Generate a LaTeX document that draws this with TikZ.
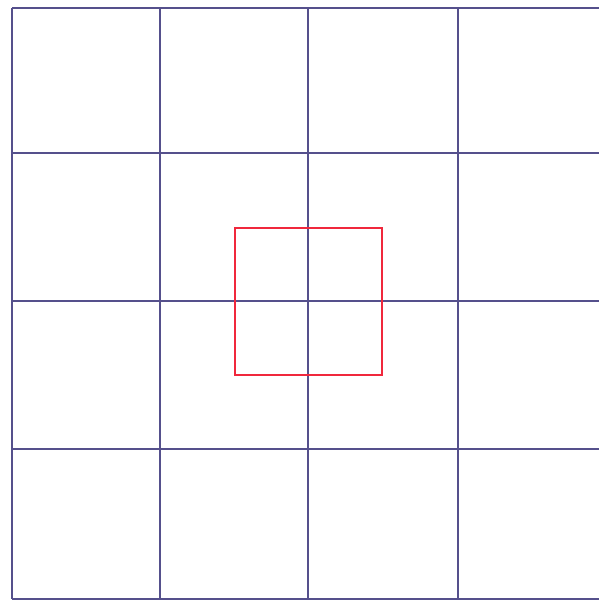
\documentclass[tikz,border=0pt]{standalone}
\begin{document}
\begin{tikzpicture}[x=1pt,y=-1pt,
  gridline/.style={draw={rgb,255:red,85;green,80;blue,140},line width=1.4pt},
  redbox/.style={draw={rgb,255:red,240;green,40;blue,60},line width=1.6pt}]
\useasboundingbox (0,0) rectangle (599,601);
\fill[white] (0,0) rectangle (599,601);
% vertical lines
\foreach \x in {12,160,308,458}
  \draw[gridline] (\x,8) -- (\x,599);
% horizontal lines
\foreach \y in {8,153,301,449,599}
  \draw[gridline] (12,\y) -- (599,\y);
% red square
\draw[redbox] (235,228) rectangle (382,375);
\end{tikzpicture}
\end{document}
